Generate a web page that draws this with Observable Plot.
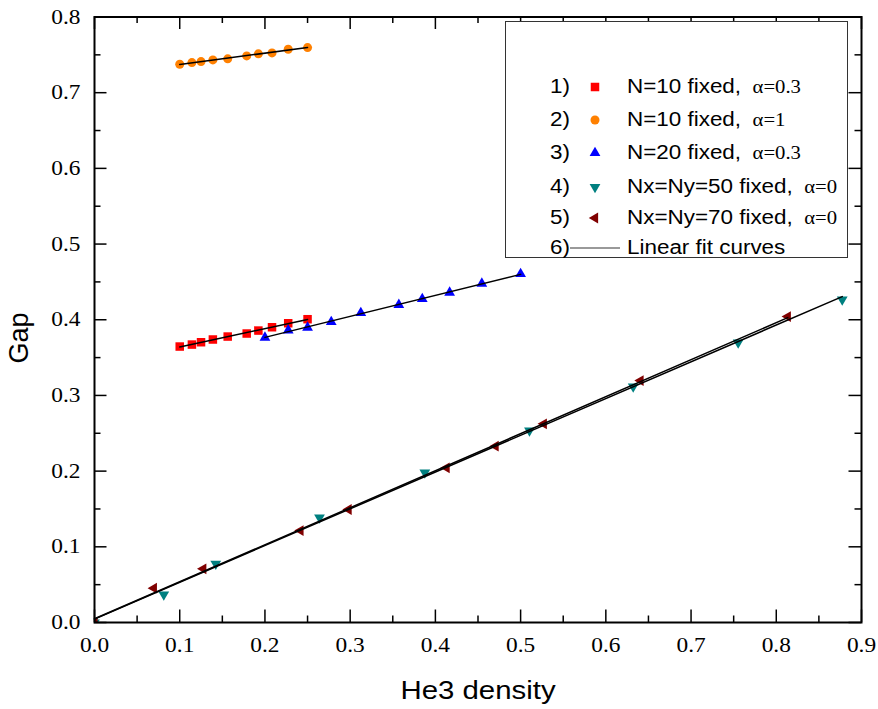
<!DOCTYPE html>
<html><head><meta charset="utf-8">
<script src="https://cdn.jsdelivr.net/npm/d3@7"></script>
<script src="https://cdn.jsdelivr.net/npm/@observablehq/plot@0.6"></script>
<style>
body{margin:0;background:#fff}
#wrap{position:relative;width:878px;height:709px;overflow:hidden;background:#fff}
#wrap svg{position:absolute;left:0;top:0}
#wrap svg text{font-family:"Liberation Serif","Times New Roman",serif !important}
.t{position:absolute;font-family:"Liberation Sans",Arial,sans-serif;white-space:nowrap;color:#000;line-height:1}
.serif{font-family:"Liberation Serif","Times New Roman",serif}
</style></head><body><div id="wrap"></div>
<script>
// ---- tick values and labels ----
const xTicks = [0, 0.1, 0.2, 0.3, 0.4, 0.5, 0.6, 0.7, 0.8, 0.9];
const xTickLabels = ["0.0","0.1","0.2","0.3","0.4","0.5","0.6","0.7","0.8","0.9"];
const xMinor = [0.05, 0.15, 0.25, 0.35, 0.45, 0.55, 0.65, 0.75, 0.85];
const yTicks = [0, 0.1, 0.2, 0.3, 0.4, 0.5, 0.6, 0.7, 0.8];
const yTickLabels = ["0.0","0.1","0.2","0.3","0.4","0.5","0.6","0.7","0.8"];
const yMinor = [0.05, 0.15, 0.25, 0.35, 0.45, 0.55, 0.65, 0.75];

const xTitle = "He3 density";
const yTitle = "Gap";

// ---- series ----
const seriesNums = ["1)", "2)", "3)", "4)", "5)", "6)"];
const seriesText = ["N=10 fixed,", "N=10 fixed,", "N=20 fixed,", "Nx=Ny=50 fixed,", "Nx=Ny=70 fixed,", "Linear fit curves"];
const seriesAlpha = ["\u03b1=0.3", "\u03b1=1", "\u03b1=0.3", "\u03b1=0", "\u03b1=0", ""];
const seriesColors = ["#ff0000", "#ff8000", "#0000ff", "#008080", "#800000"];

const s1x = [0.1, 0.1143, 0.125, 0.1389, 0.1563, 0.1786, 0.1923, 0.2083, 0.2273, 0.25];
const s1y = [0.3646, 0.3672, 0.3703, 0.3739, 0.3778, 0.3818, 0.3857, 0.3901, 0.3954, 0.4007];

const s2x = [0.1, 0.1143, 0.125, 0.1389, 0.1563, 0.1786, 0.1923, 0.2083, 0.2273, 0.25];
const s2y = [0.7375, 0.7398, 0.7411, 0.7433, 0.7447, 0.7486, 0.7513, 0.7526, 0.7574, 0.7596];

const s3x = [0.2, 0.2273, 0.25, 0.2778, 0.3125, 0.3571, 0.3846, 0.4167, 0.4545, 0.5];
const s3y = [0.3765, 0.3861, 0.3897, 0.3972, 0.4091, 0.4197, 0.4276, 0.4359, 0.4478, 0.4606];

const s4x = [0, 0.0813, 0.1423, 0.264, 0.3876, 0.5104, 0.6321, 0.7553, 0.8774];
const s4y = [0, 0.037, 0.0775, 0.1387, 0.1982, 0.2536, 0.3118, 0.3699, 0.4267];

const s5x = [0, 0.0696, 0.1276, 0.2417, 0.2981, 0.4131, 0.4706, 0.5272, 0.6407, 0.8135];
const s5y = [0, 0.0453, 0.0709, 0.1215, 0.1493, 0.2044, 0.2329, 0.2625, 0.3197, 0.4042];

// ---- build table ----
const seriesXY = [[s1x, s1y], [s2x, s2y], [s3x, s3y], [s4x, s4y], [s5x, s5y]];
const data = seriesXY.flatMap(([xs, ys], s) => xs.map((x, i) => ({s, x, y: ys[i]})));

// ---- custom symbols ----
const sqrt3 = Math.sqrt(3);
const triDown = {draw(ctx, size) {
  const y = -Math.sqrt(size / (sqrt3 * 3));
  ctx.moveTo(0, -y * 2); ctx.lineTo(-sqrt3 * y, y); ctx.lineTo(sqrt3 * y, y); ctx.closePath();
}};
const triLeft = {draw(ctx, size) {
  const y = -Math.sqrt(size / (sqrt3 * 3));
  ctx.moveTo(y * 2, 0); ctx.lineTo(-y, -sqrt3 * y); ctx.lineTo(-y, sqrt3 * y); ctx.closePath();
}};
const symbols = [d3.symbolSquare, d3.symbolCircle, d3.symbolTriangle, triDown, triLeft];
const radii = [4.8, 4.5, 4.0, 4.0, 4.0];

// ---- layout ----
const W = 878, H = 709, mL = 94, mR = 17, mT = 16.5, mB = 87;
const plotW = W - mL - mR, plotH = H - mT - mB;
const majorLen = 12.5, minorLen = 6.5;

const dotMarks = symbols.map((sym, s) => Plot.dot(data.filter(d => d.s === s), {
  x: "x", y: "y", symbol: sym, r: radii[s], fill: seriesColors[s], stroke: "none", clip: true
}));

const chart = Plot.plot({
  width: W, height: H,
  marginLeft: mL, marginRight: mR, marginTop: mT, marginBottom: mB,
  style: {fontFamily: "Liberation Serif", background: "white"},
  x: {domain: [0, 0.9]},
  y: {domain: [0, 0.8]},
  marks: [
    ...dotMarks,
    Plot.linearRegressionY(data, {x: "x", y: "y", z: "s", stroke: "black", strokeWidth: 1.5, ci: 0}),
    // inward ticks on all four sides
    Plot.ruleX(xTicks, {x: d => d, insetTop: plotH - majorLen, strokeWidth: 1.5}),
    Plot.ruleX(xTicks, {x: d => d, insetBottom: plotH - majorLen, strokeWidth: 1.5}),
    Plot.ruleX(xMinor, {x: d => d, insetTop: plotH - minorLen, strokeWidth: 1.5}),
    Plot.ruleX(xMinor, {x: d => d, insetBottom: plotH - minorLen, strokeWidth: 1.5}),
    Plot.ruleY(yTicks, {y: d => d, insetRight: plotW - majorLen, strokeWidth: 1.5}),
    Plot.ruleY(yTicks, {y: d => d, insetLeft: plotW - majorLen, strokeWidth: 1.5}),
    Plot.ruleY(yMinor, {y: d => d, insetRight: plotW - minorLen, strokeWidth: 1.5}),
    Plot.ruleY(yMinor, {y: d => d, insetLeft: plotW - minorLen, strokeWidth: 1.5}),
    Plot.frame({stroke: "black", strokeWidth: 2}),
    Plot.axisX({ticks: xTicks, tickFormat: d => xTickLabels[xTicks.indexOf(d)], tickSize: 0, tickPadding: 15,
      fontSize: 20.5, fontFamily: "Liberation Serif", label: null}),
    Plot.axisY({ticks: yTicks, tickFormat: d => yTickLabels[yTicks.indexOf(d)], tickSize: 0, tickPadding: 14,
      fontSize: 20.5, fontFamily: "Liberation Serif", label: null})
  ]
});

// horizontally widen tick labels to match the reference's stretched type
d3.select(chart).selectAll('g[aria-label="x-axis tick label"] text, g[aria-label="y-axis tick label"] text').each(function() {
  const t = this.getAttribute("transform") || "";
  this.setAttribute("transform", t + " scale(1.14,1)");
});

const wrap = document.getElementById("wrap");
wrap.appendChild(chart);

// ---- axis titles ----
const xt = document.createElement("div");
xt.className = "t";
xt.textContent = xTitle;
Object.assign(xt.style, {left: "477.5px", top: "676.5px", fontSize: "26px", transform: "translateX(-50%) scaleX(1.13)"});
wrap.appendChild(xt);

const yt = document.createElement("div");
yt.className = "t";
yt.textContent = yTitle;
Object.assign(yt.style, {left: "19px", top: "338px", fontSize: "27px", transform: "translate(-50%,-50%) rotate(-90deg)"});
wrap.appendChild(yt);

// ---- legend ----
const box = document.createElement("div");
Object.assign(box.style, {position: "absolute", left: "505px", top: "20.5px", width: "343px", height: "237px",
  border: "1px solid #333", background: "white", boxSizing: "border-box"});
wrap.appendChild(box);

const rowY = [86.5, 120, 153.3, 186.7, 218.3, 248];
seriesNums.forEach((num, i) => {
  const cy = rowY[i];
  const n = document.createElement("div");
  n.className = "t";
  n.textContent = num;
  Object.assign(n.style, {left: "550px", top: (cy - 10) + "px", fontSize: "19.5px", transform: "scaleX(1.15)", transformOrigin: "left center"});
  wrap.appendChild(n);

  const svgNS = "http://www.w3.org/2000/svg";
  const sv = document.createElementNS(svgNS, "svg");
  sv.setAttribute("width", 60); sv.setAttribute("height", 20);
  Object.assign(sv.style, {position: "absolute", left: "565px", top: (cy - 10) + "px"});
  if (i < 5) {
    const p = document.createElementNS(svgNS, "path");
    p.setAttribute("d", d3.symbol(symbols[i], Math.PI * radii[i] * radii[i])());
    p.setAttribute("transform", "translate(30,10)");
    p.setAttribute("fill", seriesColors[i]);
    sv.appendChild(p);
  } else {
    const l = document.createElementNS(svgNS, "line");
    l.setAttribute("x1", 5); l.setAttribute("x2", 55); l.setAttribute("y1", 10); l.setAttribute("y2", 10);
    l.setAttribute("stroke", "#777"); l.setAttribute("stroke-width", 1.5);
    sv.appendChild(l);
  }
  wrap.appendChild(sv);

  const t = document.createElement("div");
  t.className = "t";
  Object.assign(t.style, {left: "627px", top: (cy - 10) + "px", fontSize: "19.5px", transform: "scaleX(1.15)", transformOrigin: "left center"});
  t.appendChild(document.createTextNode(seriesText[i]));
  if (seriesAlpha[i]) {
    const a = document.createElement("span");
    a.className = "serif";
    a.textContent = seriesAlpha[i];
    Object.assign(a.style, {fontSize: "18px", marginLeft: "10px"});
    t.appendChild(a);
  }
  wrap.appendChild(t);
});
</script>
</body></html>
